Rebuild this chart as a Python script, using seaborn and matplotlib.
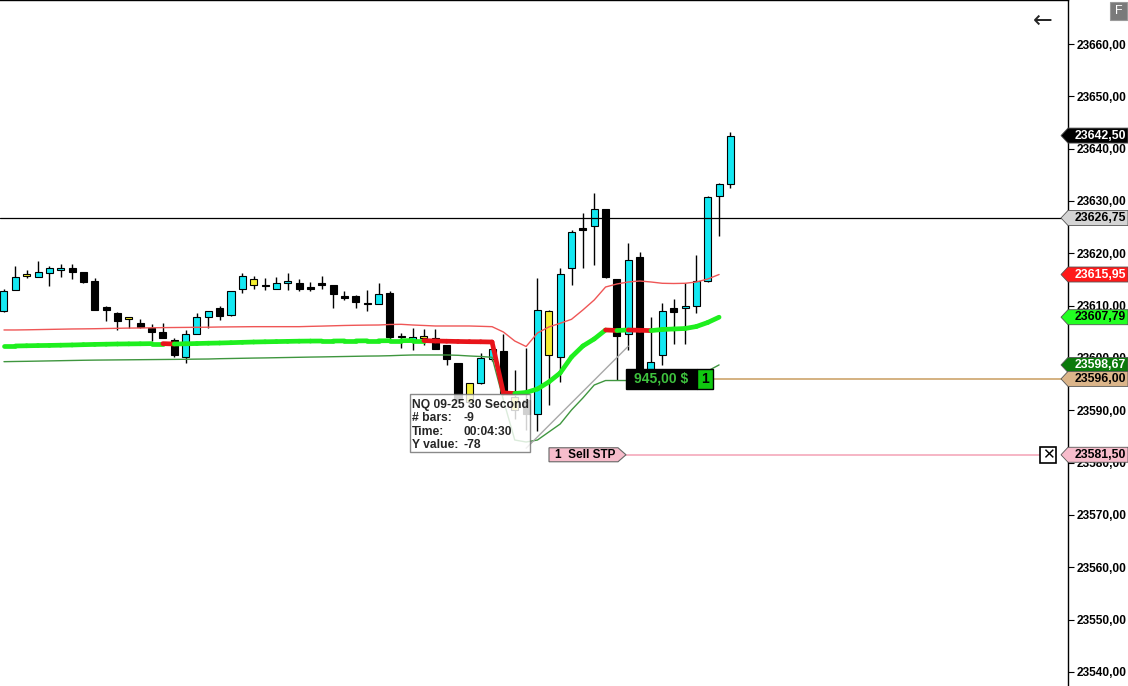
import numpy as np
import pandas as pd
import seaborn as sns
import matplotlib.pyplot as plt
import matplotlib.transforms as mtransforms
from matplotlib.patches import Polygon, Rectangle
from matplotlib.collections import LineCollection
from matplotlib.ticker import FuncFormatter, MultipleLocator

# NQ 09-25, 30 second bars
opens = [23609.0, 23613.0, 23615.75, 23615.5, 23616.25, 23616.75, 23617.25, 23616.5, 23614.75, 23609.75,
         23608.5, 23607.5, 23606.75, 23605.75, 23605.0, 23603.5, 23600.25, 23604.5, 23607.75, 23609.5,
         23608.25, 23613.25, 23614.0, 23614.0, 23613.25, 23614.25, 23614.25, 23613.5, 23614.25, 23614.0,
         23611.75, 23611.75, 23610.5, 23610.25, 23612.5, 23604.25, 23603.5, 23603.75, 23603.75, 23602.5,
         23599.0, 23591.5, 23595.25, 23599.75, 23601.25, 23590.0, 23592.0, 23589.25, 23600.5, 23600.25,
         23617.25, 23624.75, 23625.25, 23628.5, 23615.0, 23604.5, 23619.25, 23597.25, 23600.5, 23609.5,
         23609.5, 23610.0, 23614.75, 23631.0, 23633.25]
highs = [23613.25, 23617.5, 23616.75, 23618.5, 23617.5, 23618.0, 23618.0, 23616.5, 23615.25, 23610.0,
         23608.75, 23607.75, 23607.5, 23606.5, 23606.75, 23603.75, 23605.25, 23608.5, 23609.0, 23610.0,
         23612.75, 23616.25, 23615.75, 23615.25, 23615.5, 23616.25, 23615.0, 23614.5, 23615.75, 23614.0,
         23612.75, 23612.0, 23613.0, 23614.25, 23612.75, 23604.75, 23605.75, 23605.5, 23605.5, 23602.5,
         23599.0, 23595.25, 23601.0, 23601.75, 23604.5, 23597.75, 23602.0, 23615.25, 23609.25, 23617.25,
         23624.5, 23627.75, 23631.5, 23628.5, 23615.0, 23622.0, 23620.25, 23607.75, 23610.5, 23611.25,
         23614.25, 23619.75, 23631.0, 23633.5, 23643.25]
lows = [23608.75, 23613.0, 23615.25, 23615.5, 23613.75, 23615.5, 23615.0, 23614.25, 23609.25, 23607.0,
        23605.25, 23605.75, 23605.75, 23603.25, 23603.75, 23600.25, 23599.0, 23604.5, 23605.75, 23607.25,
        23608.0, 23612.5, 23613.25, 23613.0, 23613.25, 23613.0, 23612.75, 23612.75, 23613.25, 23609.5,
        23611.0, 23609.5, 23609.0, 23610.25, 23603.0, 23602.0, 23601.5, 23602.5, 23601.75, 23598.75,
        23591.5, 23591.25, 23595.0, 23599.5, 23593.0, 23588.25, 23586.25, 23586.0, 23591.0, 23595.5,
        23614.0, 23617.25, 23617.75, 23615.25, 23595.75, 23601.5, 23596.0, 23594.0, 23598.75, 23602.75,
        23602.75, 23608.5, 23614.5, 23623.25, 23632.5]
closes = [23612.75, 23615.5, 23616.0, 23616.5, 23617.25, 23617.25, 23616.5, 23614.5, 23609.25, 23609.25,
          23607.0, 23607.75, 23606.0, 23605.0, 23603.75, 23600.5, 23604.5, 23607.75, 23609.0, 23608.0,
          23612.75, 23615.75, 23615.0, 23613.75, 23614.25, 23614.75, 23613.25, 23613.25, 23614.0, 23612.25,
          23611.5, 23610.75, 23610.25, 23612.25, 23604.0, 23604.0, 23604.0, 23604.25, 23601.75, 23599.75,
          23592.0, 23595.25, 23600.0, 23601.75, 23593.25, 23592.5, 23589.25, 23609.25, 23609.0, 23616.0,
          23624.0, 23624.5, 23628.5, 23615.5, 23604.25, 23618.75, 23596.75, 23599.25, 23609.0, 23608.75,
          23610.0, 23614.75, 23630.75, 23633.25, 23642.5]
yellow_bars = [2, 11, 22, 37, 41, 45, 48]

# indicator lines (stop one bar before the last candle)
upper_band = [23605.35, 23605.35, 23605.38, 23605.42, 23605.46, 23605.50, 23605.54, 23605.56, 23605.59, 23605.63,
              23605.67, 23605.71, 23605.73, 23605.77, 23605.80, 23605.82, 23605.84, 23605.86, 23605.88, 23605.92,
              23605.94, 23605.96, 23605.98, 23605.98, 23605.98, 23605.98, 23605.98, 23606.04, 23606.09, 23606.15,
              23606.21, 23606.25, 23606.28, 23606.30, 23606.40, 23606.43, 23606.30, 23606.21, 23606.11, 23606.11,
              23606.11, 23606.11, 23606.05, 23605.98, 23604.96, 23603.24, 23602.19, 23604.77, 23605.92, 23606.63,
              23607.39, 23609.17, 23611.08, 23613.56, 23614.14, 23614.52, 23614.71, 23614.52, 23614.27, 23614.23,
              23614.27, 23614.52, 23615.09, 23615.95]
mid_line = [23602.29, 23602.29, 23602.33, 23602.37, 23602.40, 23602.44, 23602.48, 23602.54, 23602.59, 23602.63,
            23602.67, 23602.69, 23602.71, 23602.74, 23602.74, 23602.67, 23602.71, 23602.76, 23602.82, 23602.86,
            23602.92, 23602.99, 23603.05, 23603.09, 23603.13, 23603.17, 23603.21, 23603.23, 23603.24, 23603.24,
            23603.26, 23603.26, 23603.28, 23603.28, 23603.30, 23603.30, 23603.32, 23603.32, 23603.24, 23603.20,
            23603.15, 23603.11, 23603.09, 23603.05, 23593.31, 23593.21, 23593.40, 23594.07, 23595.41, 23597.13,
            23600.19, 23602.29, 23603.63, 23605.35, 23605.25, 23605.35, 23605.29, 23605.23, 23605.44, 23605.54,
            23605.63, 23606.01, 23606.78, 23607.79]
lower_band = [23599.29, 23599.33, 23599.36, 23599.40, 23599.44, 23599.48, 23599.52, 23599.56, 23599.59, 23599.61,
              23599.63, 23599.65, 23599.67, 23599.69, 23599.71, 23599.73, 23599.75, 23599.78, 23599.80, 23599.86,
              23599.90, 23599.94, 23599.98, 23600.01, 23600.05, 23600.09, 23600.13, 23600.17, 23600.20, 23600.24,
              23600.28, 23600.32, 23600.36, 23600.38, 23600.43, 23600.51, 23600.57, 23600.57, 23600.57, 23600.57,
              23600.51, 23600.38, 23600.28, 23600.13, 23591.97, 23584.32, 23583.94, 23584.32, 23585.85, 23587.38,
              23590.06, 23592.35, 23594.83, 23595.69, 23595.69, 23595.69, 23595.69, 23595.69, 23595.79, 23595.98,
              23596.36, 23596.75, 23597.51, 23598.67]

crosshair_price = 23626.75
entry_price = 23596.00
stop_price = 23581.50
pnl_text = "945,00 $"
qty_text = "1"
stop_text = "1  Sell STP"
ruler_bars = [55, 46]
ruler_prices = [23602.25, 23582.75]
tooltip_rows = [("NQ 09-25 30 Second", ""), ("# bars:", "-9"), ("Time:", "00:04:30"), ("Y value:", "-78")]

W, H = 1128, 686
AXW = 1068
PPX = 131.1 / H  # price per pixel

sns.set_theme(style="white")
plt.rcParams['font.family'] = ['Liberation Sans', 'DejaVu Sans']

df = pd.DataFrame({"open": opens, "high": highs, "low": lows, "close": closes})
df["bar"] = np.arange(len(df))
df["color"] = np.where(df["close"] >= df["open"], "#14e8f2", "black")
df.loc[yellow_bars, "color"] = "#f4ef30"

ind = pd.DataFrame({"bar": np.arange(len(upper_band)), "upper": upper_band,
                    "mid": mid_line, "lower": lower_band})

fig = plt.figure(figsize=(W / 100, H / 100), dpi=100)
ax = fig.add_axes([0, 0, AXW / W, 1])
ax.set_xlim(-0.35, 93.74)
ax.set_ylim(23537.31, 23668.41)

# candles
ax.vlines(df["bar"], df["low"], df["high"], color="black", lw=1, zorder=2)
ax.bar(df["bar"], (df["close"] - df["open"]).abs(), bottom=df[["open", "close"]].min(axis=1),
       width=0.62, color=df["color"], edgecolor="black", linewidth=0.8, zorder=3)

# bands
sns.lineplot(data=ind, x="bar", y="upper", color="#ef5656", lw=1, ax=ax, zorder=4)
sns.lineplot(data=ind, x="bar", y="lower", color="#3f963f", lw=1, ax=ax, zorder=4)
pts = ind[["bar", "mid"]].to_numpy()
segs = np.stack([pts[:-1], pts[1:]], axis=1)
seg_cols = np.where(np.diff(ind["mid"]) < 0, "#e8141a", "#1eef1e")
ax.add_collection(LineCollection(segs, colors=seg_cols, linewidths=3.4, capstyle="round", zorder=4))

# ruler line
ax.plot(ruler_bars, ruler_prices, color="#a8a8a8", lw=1, zorder=4)

# price levels
ax.axhline(crosshair_price, color="black", lw=0.9, zorder=5)
ax.axhline(entry_price, xmin=713 / AXW, xmax=1, color="#cda46c", lw=1.2, zorder=5)
ax.axhline(stop_price, xmin=625 / AXW, xmax=1040 / AXW, color="#f5a9bb", lw=1.2, zorder=5)

tA = mtransforms.blended_transform_factory(ax.transAxes, ax.transData)

# position label
hh = 10 * PPX
ax.add_patch(Rectangle((626 / AXW, entry_price - hh), 71 / AXW, 2 * hh, transform=tA,
                       facecolor="black", edgecolor="black", zorder=7, clip_on=False))
ax.add_patch(Rectangle((697 / AXW, entry_price - hh), 16 / AXW, 2 * hh, transform=tA,
                       facecolor="#10c810", edgecolor="black", lw=1, zorder=7, clip_on=False))
ax.text(661 / AXW, entry_price, pnl_text, transform=tA, ha="center", va="center",
        color="#3ec23e", fontsize=10, fontweight="bold", zorder=8)
ax.text(705 / AXW, entry_price, qty_text, transform=tA, ha="center", va="center",
        color="black", fontsize=10, fontweight="bold", zorder=8)

# stop order label
sh = 7 * PPX
ax.add_patch(Polygon([(549 / AXW, stop_price - sh), (618 / AXW, stop_price - sh), (626 / AXW, stop_price),
                      (618 / AXW, stop_price + sh), (549 / AXW, stop_price + sh)], closed=True,
                     transform=tA, facecolor="#f7bccb", edgecolor="#666666", lw=0.8, zorder=7))
ax.text(555 / AXW, stop_price, stop_text, transform=tA, ha="left", va="center",
        fontsize=8.5, fontweight="bold", color="black", zorder=8)

# close order button
xh = 8 * PPX
ax.add_patch(Rectangle((1040 / AXW, stop_price - xh), 16 / AXW, 2 * xh, transform=tA,
                       facecolor="white", edgecolor="black", lw=1.2, zorder=7))
ax.text(1048 / AXW, stop_price, "✕", transform=tA, ha="center", va="center", fontsize=11,
        fontweight="bold", family="DejaVu Sans", color="black", zorder=8)

# ruler tooltip
fx = lambda px: px / W
fy = lambda py: 1 - py / H
fig.patches.append(Rectangle((fx(410), fy(452)), fx(530) - fx(410), fy(394) - fy(452),
                             transform=fig.transFigure, facecolor="white", alpha=0.82,
                             edgecolor="#707070", lw=1, zorder=10))
for k, (lab, val) in enumerate(tooltip_rows):
    yy = fy(405 + 13.3 * k)
    fig.text(fx(412), yy, lab, ha="left", va="center", fontsize=8.7, fontweight="bold", zorder=11)
    if val:
        fig.text(fx(464), yy, val, ha="left", va="center", fontsize=8.7, fontweight="bold", zorder=11)

# axis styling
ax.yaxis.tick_right()
ax.yaxis.set_major_locator(MultipleLocator(10))
ax.yaxis.set_major_formatter(FuncFormatter(lambda v, _: f"{v:.2f}".replace(".", ",")))
ax.tick_params(axis="y", which="major", direction="out", length=4, width=0.8, pad=2,
               labelsize=8.6, colors="black", right=True, left=False)
for lbl in ax.get_yticklabels():
    lbl.set_fontweight("bold")
ax.tick_params(axis="x", bottom=False, labelbottom=False)
ax.set_xlabel("")
ax.set_ylabel("")
for s in ["left", "bottom"]:
    ax.spines[s].set_visible(False)
for s in ["top", "right"]:
    ax.spines[s].set_visible(True)
    ax.spines[s].set_color("black")
    ax.spines[s].set_linewidth(1)

# price axis markers
tF = mtransforms.blended_transform_factory(fig.transFigure, ax.transData)
lh = 7.5 * PPX
markers = [
    (upper_band[-1], "#ff1a1a", "white"),
    (mid_line[-1], "#22ff22", "black"),
    (lower_band[-1], "#0b7a0b", "white"),
    (entry_price, "#dbb58a", "black"),
    (stop_price, "#f7bccb", "black"),
    (crosshair_price, "#d4d4d4", "black"),
    (closes[-1], "black", "white"),
]
for price, bg, fg in markers:
    ax.add_patch(Polygon([(fx(1061), price), (fx(1068), price + lh), (fx(1128), price + lh),
                          (fx(1128), price - lh), (fx(1068), price - lh)], closed=True,
                         transform=tF, facecolor=bg, edgecolor="#555555", lw=0.6,
                         zorder=9, clip_on=False))
    ax.text(fx(1100), price, f"{price:.2f}".replace(".", ","), transform=tF, ha="center",
            va="center", fontsize=8.8, fontweight="bold", color=fg, zorder=10, clip_on=False)

# toolbar glyphs
fig.text(fx(1043), fy(21), "←", ha="center", va="center", fontsize=17, family="DejaVu Sans")
fig.patches.append(Rectangle((fx(1110), fy(20)), fx(17), fy(0) - fy(18), transform=fig.transFigure,
                             facecolor="#7a7a7a", edgecolor="#9a9a9a", lw=0.8))
fig.text(fx(1118.5), fy(11), "F", ha="center", va="center", fontsize=9, color="white")

fig.savefig("out.png", dpi=100)
